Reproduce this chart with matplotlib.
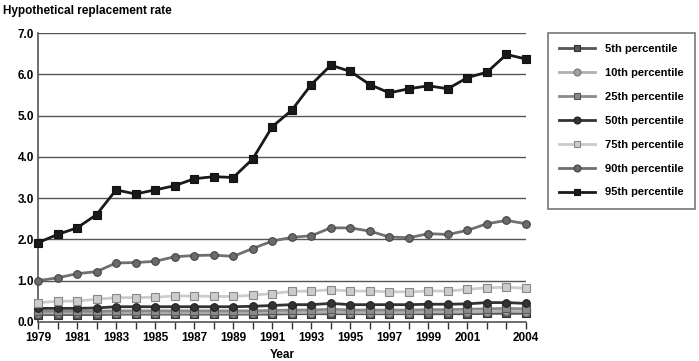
import matplotlib
matplotlib.use("Agg")
import matplotlib.pyplot as plt
from matplotlib.lines import Line2D

plt.rcParams['font.family'] = ['Liberation Sans', 'DejaVu Sans']

years = list(range(1979, 2005))
p5 = [0.18, 0.18, 0.18, 0.18, 0.19, 0.19, 0.19, 0.19, 0.19, 0.19, 0.19, 0.19, 0.19, 0.20, 0.20, 0.20, 0.20, 0.20, 0.20, 0.20, 0.20, 0.20, 0.20, 0.21, 0.21, 0.21]
p10 = [0.22, 0.22, 0.22, 0.22, 0.22, 0.22, 0.22, 0.22, 0.22, 0.22, 0.22, 0.22, 0.23, 0.23, 0.23, 0.24, 0.23, 0.23, 0.23, 0.23, 0.24, 0.24, 0.24, 0.25, 0.26, 0.25]
p25 = [0.26, 0.26, 0.26, 0.26, 0.27, 0.27, 0.27, 0.27, 0.27, 0.27, 0.27, 0.27, 0.28, 0.29, 0.29, 0.31, 0.29, 0.29, 0.29, 0.29, 0.30, 0.30, 0.31, 0.32, 0.33, 0.32]
p50 = [0.33, 0.33, 0.33, 0.34, 0.37, 0.37, 0.37, 0.37, 0.37, 0.37, 0.37, 0.38, 0.40, 0.42, 0.42, 0.45, 0.42, 0.42, 0.42, 0.42, 0.43, 0.43, 0.44, 0.47, 0.47, 0.45]
p75 = [0.47, 0.50, 0.51, 0.55, 0.59, 0.59, 0.60, 0.63, 0.63, 0.62, 0.62, 0.65, 0.69, 0.74, 0.75, 0.78, 0.75, 0.75, 0.73, 0.73, 0.75, 0.75, 0.79, 0.83, 0.84, 0.82]
p90 = [1.00, 1.07, 1.17, 1.22, 1.43, 1.44, 1.47, 1.58, 1.61, 1.62, 1.59, 1.78, 1.96, 2.05, 2.09, 2.28, 2.28, 2.20, 2.06, 2.04, 2.14, 2.12, 2.22, 2.38, 2.46, 2.38]
p95 = [1.92, 2.12, 2.28, 2.60, 3.20, 3.10, 3.20, 3.30, 3.47, 3.52, 3.50, 3.95, 4.73, 5.13, 5.75, 6.22, 6.07, 5.75, 5.55, 5.65, 5.72, 5.65, 5.92, 6.05, 6.48, 6.37]

labels = ["5th percentile", "10th percentile", "25th percentile", "50th percentile",
          "75th percentile", "90th percentile", "95th percentile"]
series = [p5, p10, p25, p50, p75, p90, p95]
styles = [
    dict(color="#555555", marker="s", mfc="#555555", mec="#333333"),
    dict(color="#b0b0b0", marker="o", mfc="#a0a0a0", mec="#777777"),
    dict(color="#8a8a8a", marker="s", mfc="#8a8a8a", mec="#555555"),
    dict(color="#333333", marker="o", mfc="#333333", mec="#222222"),
    dict(color="#cccccc", marker="s", mfc="#cccccc", mec="#888888"),
    dict(color="#707070", marker="o", mfc="#6a6a6a", mec="#444444"),
    dict(color="#1a1a1a", marker="s", mfc="#1a1a1a", mec="#111111"),
]

fig = plt.figure(figsize=(6.99, 3.61), dpi=100)
ax = fig.add_axes([38/699, 1-322/361, (526-38)/699, (322-33)/361])

for y in range(1, 8):
    ax.axhline(y, color="#555555", lw=1.0, zorder=1)

handles = []
for s, lab, st in zip(series, labels, styles):
    ax.plot(years, s, lw=2, ms=5.5, mew=0.8, clip_on=False, zorder=3, label=lab, **st)
    handles.append(Line2D([0], [0], lw=2, ms=5, mew=0.8, **st))

ax.set_xlim(1979, 2004)
ax.set_ylim(0, 7)
ax.set_yticks(range(0, 8))
ax.set_yticklabels([f"{v:.1f}" for v in range(0, 8)], fontsize=8.5, fontweight="bold")
ax.set_xticks(years)
xl = [str(y) if (y <= 2001 and (y - 1979) % 2 == 0) or y == 2004 else "" for y in years]
ax.set_xticklabels(xl, fontsize=8.5, fontweight="bold")
ax.tick_params(axis="x", direction="out", length=5, color="#333333", width=1, pad=2)
ax.tick_params(axis="y", length=0, pad=3)
for sp in ["top", "right"]:
    ax.spines[sp].set_visible(False)
ax.spines["left"].set_color("#555555")
ax.spines["bottom"].set_color("#555555")
ax.spines["left"].set_linewidth(1.2)
ax.spines["bottom"].set_linewidth(1.2)
ax.set_xlabel("Year", fontsize=8.5, fontweight="bold", labelpad=4)

fig.text(3/699, 1-11/361, "Hypothetical replacement rate", fontsize=8.5, fontweight="bold", va="center", ha="left")

leg = fig.legend(handles, labels, loc="upper left", bbox_to_anchor=(548/699, 1-33/361),
                 frameon=True, fancybox=False, handlelength=3.2, handletextpad=0.9,
                 labelspacing=1.25, borderpad=1.0, borderaxespad=0,
                 prop=dict(size=8, weight="bold"))
leg.get_frame().set_edgecolor("#555555")
leg.get_frame().set_linewidth(1.2)

fig.savefig("out.png", dpi=100)
